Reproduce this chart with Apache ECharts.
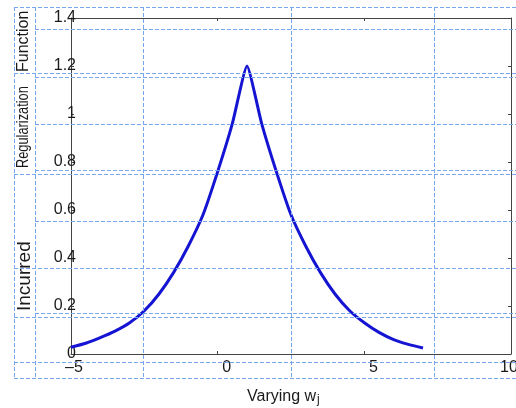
<!DOCTYPE html>
<html>
<head>
<meta charset="utf-8">
<script src="https://cdn.jsdelivr.net/npm/echarts@6/dist/echarts.min.js"></script>
<style>
  html, body { margin: 0; padding: 0; background: #fff; }
  #main1 { width: 516px; height: 408px; }
</style>
</head>
<body>
<div id="main1"></div>
<script>
// values
const xValues = [-5, -4.5, -4, -3.5, -3, -2.5, -2, -1.5, -1, -0.5, 0, 0.5, 1,
  1.5, 2, 2.5, 3, 3.5, 4, 4.5, 5, 5.5, 6, 6.5, 7];
const yValues = [0.028, 0.045, 0.068, 0.095, 0.13, 0.18, 0.25, 0.34, 0.45, 0.58, 0.76, 0.96, 1.2,
  0.96, 0.76, 0.58, 0.45, 0.34, 0.25, 0.18, 0.13, 0.09, 0.06, 0.04, 0.025];
const xTicks = [-5, 0, 5, 10];
const yTicks = [0, 0.2, 0.4, 0.6, 0.8, 1, 1.2, 1.4];

const points = xValues.map((x, i) => [x, yValues[i]]);

// dashed blue layout boxes laid over the screenshot
const boxColor = "#78a6f0";
const hLines = [[14, 7], [35, 29], [14, 73], [35, 77], [35, 124], [35, 170], [14, 174],
  [35, 221], [14, 268], [35, 313], [14, 317], [14, 362], [14, 378]];
const vLines = [14, 35, 143, 291, 434];
const overlay = [];
hLines.forEach(([x0, y]) => {
  overlay.push({ type: "line", shape: { x1: x0, y1: y + 0.5, x2: 516, y2: y + 0.5 },
    style: { stroke: boxColor, lineWidth: 1, lineDash: [4, 2] }, z: 100 });
});
vLines.forEach((x) => {
  overlay.push({ type: "line", shape: { x1: x + 0.5, y1: 7, x2: x + 0.5, y2: 378 },
    style: { stroke: boxColor, lineWidth: 1, lineDash: [4, 2] }, z: 100 });
});

const labelColor = "#1a1a1a";
const axisColor = "#444";

const option = {
  backgroundColor: "#fff",
  animation: false,
  grid: { left: 71, right: 5, top: 18, bottom: 54, outerBoundsMode: "none" },
  xAxis: [
    {
      type: "value",
      min: -5,
      max: 10,
      interval: 5,
      axisLine: { onZero: false, lineStyle: { color: axisColor, width: 1 } },
      axisTick: { inside: true, length: 3, lineStyle: { color: axisColor } },
      axisLabel: {
        color: labelColor,
        fontFamily: "Liberation Sans",
        fontSize: 16,
        margin: 6,
        showMaxLabel: true,
        hideOverlap: false,
        customValues: xTicks,
        formatter: (v) => {
          if (v < 0) return "{n|" + String(v).replace("-", "\u2013") + "}";
          if (v >= 10) return "{e|" + v + "}";
          return "{p|" + v + "}";
        },
        rich: {
          n: { fontFamily: "Liberation Sans", fontSize: 16, color: labelColor, padding: [0, 0, 0, 6] },
          p: { fontFamily: "Liberation Sans", fontSize: 16, color: labelColor, padding: [0, 0, 0, 18] },
          e: { fontFamily: "Liberation Sans", fontSize: 16, color: labelColor, padding: [0, 4, 0, 0] },
        },
      },
      splitLine: { show: false },
    },
    {
      type: "value",
      position: "top",
      min: -5,
      max: 10,
      interval: 5,
      axisLine: { onZero: false, lineStyle: { color: axisColor, width: 1 } },
      axisTick: { inside: true, length: 3, lineStyle: { color: axisColor } },
      axisLabel: { show: false },
      splitLine: { show: false },
    },
  ],
  yAxis: [
    {
      type: "value",
      min: 0,
      max: 1.4,
      interval: 0.2,
      axisLine: { show: true, onZero: false, lineStyle: { color: axisColor, width: 1 } },
      axisTick: { show: true, inside: true, length: 3, lineStyle: { color: axisColor } },
      axisLabel: {
        color: labelColor,
        fontFamily: "Liberation Sans",
        fontSize: 16,
        margin: -5,
        customValues: yTicks,
        formatter: (v) => String(Math.round(v * 10) / 10),
      },
      splitLine: { show: false },
    },
    {
      type: "value",
      position: "right",
      min: 0,
      max: 1.4,
      interval: 0.2,
      axisLine: { show: true, onZero: false, lineStyle: { color: axisColor, width: 1 } },
      axisTick: { show: true, inside: true, length: 3, lineStyle: { color: axisColor } },
      axisLabel: { show: false },
      splitLine: { show: false },
    },
  ],
  series: [
    {
      type: "line",
      data: points,
      showSymbol: false,
      smooth: 0.15,
      lineStyle: { color: "#1414d2", width: 3 },
      z: 5,
    },
  ],
  graphic: [
    {
      type: "text",
      x: 16,
      y: 72,
      rotation: Math.PI / 2,
      style: { text: "Function", fill: labelColor, fontFamily: "Liberation Sans", fontSize: 16 },
    },
    {
      type: "text",
      x: 16,
      y: 168,
      rotation: Math.PI / 2,
      scaleX: 0.8,
      style: { text: "Regularization", fill: labelColor, fontFamily: "Liberation Sans", fontSize: 16 },
    },
    {
      type: "text",
      x: 15,
      y: 311,
      rotation: Math.PI / 2,
      style: { text: "Incurred", fill: labelColor, fontFamily: "Liberation Sans", fontSize: 19 },
    },
    {
      type: "text",
      x: 247,
      y: 388,
      style: {
        text: "Varying w{s|j}",
        fill: labelColor,
        fontFamily: "Liberation Sans",
        fontSize: 16,
        rich: { s: { fontSize: 12, fontFamily: "Liberation Sans", fill: labelColor, verticalAlign: "bottom", padding: [6, 0, 0, 1] } },
      },
    },
  ].concat(overlay),
};

const myChart = echarts.init(document.getElementById("main1"));
myChart.setOption(option);
</script>
</body>
</html>
